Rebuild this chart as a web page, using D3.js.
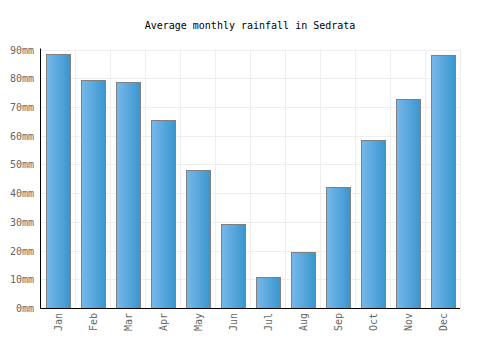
<!DOCTYPE html>
<html><head><meta charset="utf-8">
<script src="https://cdn.jsdelivr.net/npm/d3@7"></script>
<style>body{margin:0;background:#fff}svg{display:block}</style>
</head><body>
<svg id="c" width="500" height="350"></svg>
<script>
const months = ["Jan","Feb","Mar","Apr","May","Jun","Jul","Aug","Sep","Oct","Nov","Dec"];
const rainfall = [88.5, 79.3, 78.6, 65.4, 48.0, 29.2, 10.7, 19.4, 42.1, 58.4, 72.7, 88.0];
const yTicks = [0,10,20,30,40,50,60,70,80,90];
const title = "Average monthly rainfall in Sedrata";

const svg = d3.select("#c");
const m = {l:40.5, r:460, t:49.5, b:308};
const font = "'DejaVu Sans Mono', monospace";

const defs = svg.append("defs");
const g = defs.append("linearGradient").attr("id","bg").attr("x1","0").attr("x2","1").attr("y1","0").attr("y2","0");
g.append("stop").attr("offset","0%").attr("stop-color","#78b8ea");
g.append("stop").attr("offset","100%").attr("stop-color","#3896cf");

const x = d3.scaleBand().domain(months).range([m.l-0.5, m.r]).paddingInner(0.32).paddingOuter(0.16);
const xb = d3.scaleBand().domain(months).range([m.l-0.5, m.r]);
const y = d3.scaleLinear().domain([0,90]).range([m.b, m.t]);

// grid
svg.append("g").selectAll("line.h").data(yTicks).join("line")
  .attr("x1", m.l).attr("x2", m.r).attr("y1", d=>Math.round(y(d))+0.5).attr("y2", d=>Math.round(y(d))+0.5)
  .attr("stroke","#eeeeee").attr("stroke-width",1);
svg.append("g").selectAll("line.v").data(months).join("line")
  .attr("x1", d=>Math.round(xb(d)+xb.bandwidth())+0.5).attr("x2", d=>Math.round(xb(d)+xb.bandwidth())+0.5)
  .attr("y1", m.t).attr("y2", m.b)
  .attr("stroke","#eeeeee").attr("stroke-width",1);

// bars
svg.append("g").selectAll("rect").data(rainfall).join("rect")
  .attr("x", (d,i)=>Math.round(x(months[i]))+0.5)
  .attr("width", Math.round(x.bandwidth()))
  .attr("y", d=>Math.round(y(d))+0.5)
  .attr("height", d=>Math.round(m.b - y(d)))
  .attr("fill","url(#bg)").attr("stroke","#808080").attr("stroke-width",1);

// axes lines
svg.append("line").attr("x1", m.l).attr("x2", m.l).attr("y1", m.t-1).attr("y2", m.b+0.5).attr("stroke","#000").attr("stroke-width",1);
svg.append("line").attr("x1", m.l).attr("x2", m.r).attr("y1", m.b+0.5).attr("y2", m.b+0.5).attr("stroke","#000").attr("stroke-width",1);

// y labels
svg.append("g").selectAll("text").data(yTicks).join("text")
  .attr("x", 34).attr("y", d=>y(d)+4)
  .attr("text-anchor","end").attr("font-family",font).attr("font-size",10).attr("fill","#666")
  .text(d=>d+"mm");

// x labels
svg.append("g").selectAll("text").data(months).join("text")
  .attr("transform", d=>`translate(${xb(d)+xb.bandwidth()/2+4},${m.b+5}) rotate(-90)`)
  .attr("text-anchor","end").attr("font-family",font).attr("font-size",10).attr("fill","#666")
  .text(d=>d);

// title
svg.append("text").attr("x",250).attr("y",29).attr("text-anchor","middle")
  .attr("font-family",font).attr("font-size",10).attr("fill","#000").text(title);
</script>
</body></html>
